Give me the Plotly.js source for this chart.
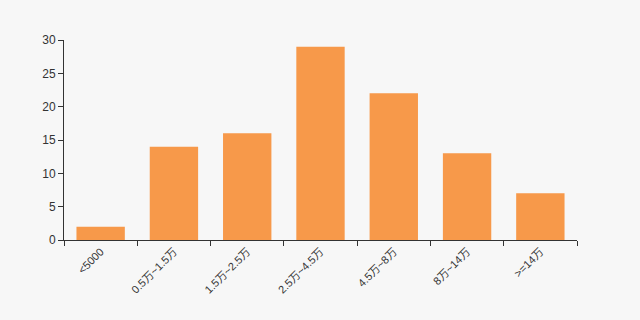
<!DOCTYPE html>
<html><head><meta charset="utf-8">
<script src="https://cdn.plot.ly/plotly-3.0.1.min.js"></script>
<style>html,body{margin:0;padding:0;background:#f7f7f7;}</style>
</head><body>
<div id="chart" style="width:640px;height:320px;"></div>
<script>
const categories = ["<5000", "0.5万~1.5万", "1.5万~2.5万", "2.5万~4.5万", "4.5万~8万", "8万~14万", ">=14万"];
const counts = [2, 14, 16, 29, 22, 13, 7];
const yTicks = [0, 5, 10, 15, 20, 25, 30];

Plotly.newPlot("chart", [{
  type: "bar",
  x: categories,
  y: counts,
  marker: {color: "#f7994a"},
  hoverinfo: "x+y"
}], {
  width: 640, height: 320,
  paper_bgcolor: "#f7f7f7",
  plot_bgcolor: "#f7f7f7",
  margin: {l: 64, r: 63, t: 40, b: 80},
  bargap: 0.34,
  font: {family: "Liberation Sans, Noto Sans CJK SC, sans-serif", size: 11, color: "#333"},
  xaxis: {
    type: "category",
    tickangle: -45,
    showline: true, linecolor: "#333", linewidth: 1,
    ticks: "outside", ticklen: 5, tickcolor: "#333",
    tickson: "boundaries",
    showgrid: false, zeroline: false,
    tickfont: {size: 11, color: "#333"}
  },
  yaxis: {
    range: [0, 30],
    tickvals: yTicks,
    showline: true, linecolor: "#333", linewidth: 1,
    ticks: "outside", ticklen: 5, tickcolor: "#333",
    showgrid: false, zeroline: false,
    tickfont: {size: 12, color: "#333"}
  },
  showlegend: false
}, {displayModeBar: false, staticPlot: true});
</script>
</body></html>
